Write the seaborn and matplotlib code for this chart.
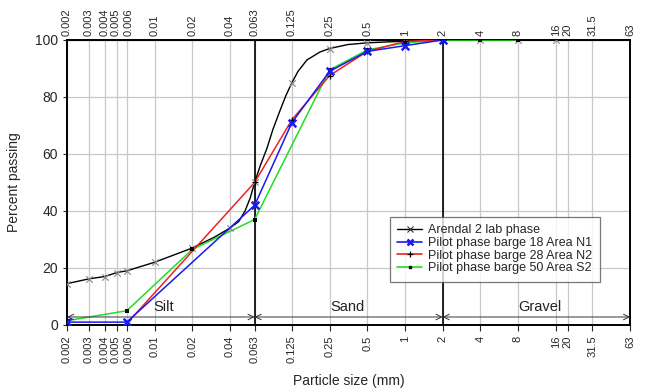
import numpy as np
import pandas as pd
import matplotlib
matplotlib.use('Agg')
import matplotlib.pyplot as plt
import matplotlib.transforms as mtransforms
from matplotlib.lines import Line2D
import seaborn as sns

# Tamices (mm) usados en los ejes
tamices = [0.002, 0.003, 0.004, 0.005, 0.006, 0.01, 0.02, 0.04, 0.063,
           0.125, 0.25, 0.5, 1, 2, 4, 8, 16, 20, 31.5, 63]
etiquetas_tamices = ['0.002', '0.003', '0.004', '0.005', '0.006', '0.01', '0.02',
                     '0.04', '0.063', '0.125', '0.25', '0.5', '1', '2', '4', '8',
                     '16', '20', '31.5', '63']

# Arendal 2 lab phase: puntos medidos
arendal_x = [0.002, 0.003, 0.004, 0.005, 0.006, 0.01, 0.02, 0.04, 0.063,
             0.125, 0.25, 0.5, 1, 2, 4, 8, 16]
arendal_y = [14.5, 16.2, 17.0, 18.4, 19.0, 22.0, 27.0, 34.0, 50.0,
             85.0, 97.0, 99.0, 99.6, 100, 100, 100, 100]
# curva suavizada
arendal_curva_x = [0.002, 0.003, 0.004, 0.005, 0.006, 0.01, 0.02, 0.03, 0.04, 0.047,
                   0.0528, 0.058, 0.063, 0.07, 0.079, 0.088, 0.1, 0.112, 0.125, 0.14,
                   0.165, 0.21, 0.25, 0.35, 0.5, 1, 2, 4, 8, 16]
arendal_curva_y = [14.5, 16.2, 17.0, 18.4, 19.0, 22.0, 27.0, 30.8, 34.0, 36.3,
                   40.0, 44.5, 50.0, 56.0, 62.0, 68.5, 75.0, 80.5, 85.0, 89.0,
                   93.0, 95.8, 97.0, 98.4, 99.0, 99.6, 100, 100, 100, 100]

n1_x = [0.002, 0.006, 0.063, 0.125, 0.25, 0.5, 1, 2]
n1_y = [1.0, 1.0, 42.0, 71.0, 89.0, 96.0, 98.0, 100]

n2_x = [0.006, 0.063, 0.125, 0.25, 0.5, 1, 2]
n2_y = [0.5, 50.0, 72.0, 87.5, 96.0, 99.5, 100]

s2_x = [0.002, 0.006, 0.02, 0.063, 0.25, 0.5, 1, 2, 4, 8]
s2_y = [1.5, 5.0, 26.5, 37.0, 89.5, 96.5, 99.0, 100, 100, 100]

nombres = ['Arendal 2 lab phase', 'Pilot phase barge 18 Area N1',
           'Pilot phase barge 28 Area N2', 'Pilot phase barge 50 Area S2']

sns.set_style('white')
plt.rcParams['font.family'] = ['Liberation Sans', 'DejaVu Sans']

fig = plt.figure(figsize=(6.45, 3.92), dpi=100)
ax = fig.add_axes([0.104, 0.171, 0.873, 0.727])
ax.set_xscale('log')

# rejilla
for t in tamices:
    ax.axvline(t, color='#c8c8c8', lw=0.9, zorder=0)
for v in range(0, 101, 20):
    ax.axhline(v, color='#c8c8c8', lw=0.9, zorder=0)
ax.axvline(0.063, color='black', lw=1.2, zorder=1)
ax.axvline(2, color='black', lw=1.2, zorder=1)

# curvas
sns.lineplot(x=arendal_curva_x, y=arendal_curva_y, ax=ax, color='black', lw=1.0,
             sort=False, estimator=None, zorder=3)
sns.scatterplot(x=arendal_x, y=arendal_y, ax=ax, marker='x', color='#888888',
                s=22, linewidth=0.8, zorder=4)

sns.lineplot(x=s2_x, y=s2_y, ax=ax, color='#22dd22', lw=1.1, sort=False,
             estimator=None, zorder=3)
sns.scatterplot(x=s2_x, y=s2_y, ax=ax, marker='s', color='black', s=5,
                linewidth=0, zorder=5)

sns.lineplot(x=n2_x, y=n2_y, ax=ax, color='#ee2222', lw=1.1, sort=False,
             estimator=None, zorder=3)
sns.scatterplot(x=n2_x, y=n2_y, ax=ax, marker='+', color='black', s=18,
                linewidth=0.9, zorder=5)

sns.lineplot(x=n1_x, y=n1_y, ax=ax, color='#1a1aee', lw=1.1, sort=False,
             estimator=None, zorder=4)
sns.scatterplot(x=n1_x, y=n1_y, ax=ax, marker='x', color='#1a1aee', s=30,
                linewidth=1.8, zorder=6)

# zonas
flecha = dict(arrowstyle='<->', color='#333333', lw=0.7, shrinkA=0, shrinkB=0)
ax.annotate('', xy=(0.063, 2.8), xytext=(0.002, 2.8), arrowprops=flecha)
ax.annotate('', xy=(2, 2.8), xytext=(0.063, 2.8), arrowprops=flecha)
ax.annotate('', xy=(63, 2.8), xytext=(2, 2.8), arrowprops=flecha)
ax.text(0.0118, 3.8, 'Silt', ha='center', va='bottom', fontsize=10.5, color='#222222')
ax.text(0.35, 3.8, 'Sand', ha='center', va='bottom', fontsize=10.5, color='#222222')
ax.text(12, 3.8, 'Gravel', ha='center', va='bottom', fontsize=10.5, color='#222222')

ax.set_xlim(0.002, 63)
ax.set_ylim(0, 100)
ax.set_xticks(tamices)
ax.set_xticklabels(etiquetas_tamices, rotation=90, fontsize=8)
ax.xaxis.set_minor_locator(matplotlib.ticker.NullLocator())
ax.set_yticks(range(0, 101, 20))
ax.tick_params(axis='y', labelsize=10, length=3, direction='out', left=True)
ax.tick_params(axis='x', length=4, direction='out', bottom=True)

top = ax.secondary_xaxis('top')
top.set_xticks(tamices)
top.set_xticklabels(etiquetas_tamices, rotation=90, fontsize=8)
top.xaxis.set_minor_locator(matplotlib.ticker.NullLocator())
top.tick_params(axis='x', length=0, pad=3)

# separar un poco las etiquetas apretadas 0.005 / 0.006
desplaza = {'0.005': -0.6, '0.006': 1.2}
for eje in (ax, top):
    for lab in eje.get_xticklabels():
        dx = desplaza.get(lab.get_text())
        if dx:
            off = mtransforms.ScaledTranslation(dx / 72, 0, fig.dpi_scale_trans)
            lab.set_transform(lab.get_transform() + off)

for s in ax.spines.values():
    s.set_visible(True)
    s.set_color('black')
    s.set_linewidth(1.4)

ax.set_xlabel('Particle size (mm)', fontsize=10, labelpad=8)
ax.set_ylabel('Percent passing', fontsize=10, labelpad=10)

handles = [
    Line2D([], [], color='black', lw=1.0, marker='x', markersize=5,
           markeredgecolor='#333333', markeredgewidth=0.8),
    Line2D([], [], color='#1a1aee', lw=1.2, marker='x', markersize=5,
           markeredgewidth=1.8),
    Line2D([], [], color='#ee2222', lw=1.2, marker='+', markersize=4,
           markeredgecolor='black', markeredgewidth=0.9),
    Line2D([], [], color='#22dd22', lw=1.2, marker='s', markersize=2,
           markerfacecolor='black', markeredgecolor='black'),
]
leg = ax.legend(handles, nombres, loc='lower left', bbox_to_anchor=(0.573, 0.152),
                fontsize=9, frameon=True, fancybox=False, borderpad=0.6,
                labelspacing=0.05, handlelength=2.0, handletextpad=0.5,
                borderaxespad=0)
leg.get_frame().set_edgecolor('#555555')
leg.get_frame().set_linewidth(0.9)
leg.set_zorder(10)

fig.savefig('out.png', dpi=100)
